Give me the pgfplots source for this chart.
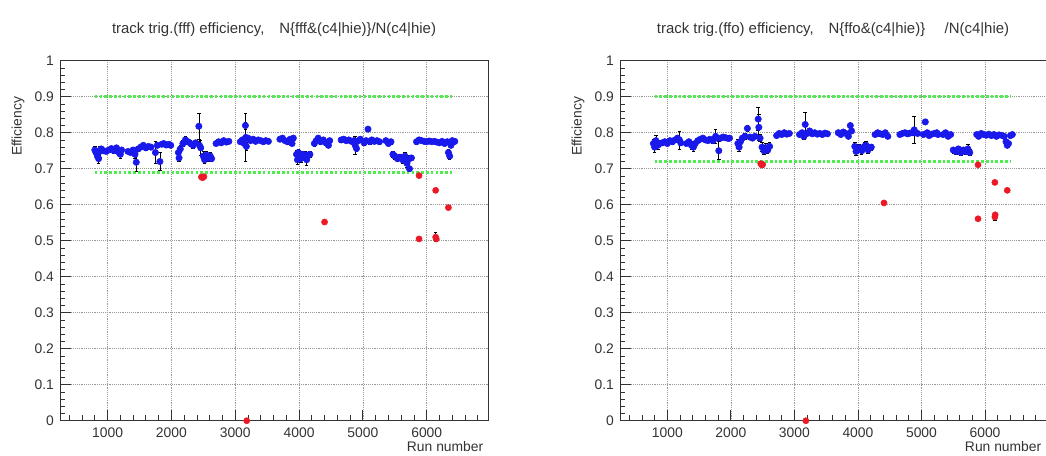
\documentclass[border=0pt]{standalone}
\usepackage{fontspec}
\setmainfont{Liberation Sans}
\usepackage{pgfplots}
\usepackage{pgfplotstable}
\pgfplotsset{compat=1.18}
\definecolor{rootblue}{rgb}{0.1,0.1,0.92}
\definecolor{rootred}{rgb}{0.92,0.1,0.15}
\definecolor{rootgreen}{rgb}{0.3,0.93,0.3}
\definecolor{txt}{rgb}{0.2,0.2,0.2}

\pgfplotstableread{
x y e
800 0.752 0.010
820 0.745 0.008
840 0.735 0.012
860 0.728 0.012
880 0.748 0.015
900 0.755 0.008
940 0.750 0.006
980 0.748 0.006
1020 0.752 0.006
1060 0.756 0.006
1100 0.750 0.006
1140 0.758 0.006
1180 0.745 0.008
1200 0.740 0.010
1220 0.752 0.006
1320 0.748 0.006
1360 0.745 0.006
1400 0.752 0.008
1430 0.740 0.010
1450 0.718 0.025
1480 0.755 0.008
1520 0.760 0.006
1560 0.765 0.006
1600 0.758 0.006
1640 0.762 0.006
1680 0.760 0.006
1750 0.745 0.030
1780 0.765 0.006
1820 0.720 0.025
1850 0.768 0.006
1880 0.770 0.006
1920 0.766 0.006
1960 0.768 0.006
1990 0.765 0.006
2110 0.745 0.012
2120 0.730 0.010
2140 0.755 0.010
2180 0.770 0.008
2220 0.780 0.010
2260 0.775 0.008
2300 0.770 0.008
2340 0.765 0.008
2380 0.772 0.008
2430 0.818 0.035
2440 0.765 0.010
2460 0.758 0.020
2500 0.735 0.012
2520 0.725 0.010
2550 0.738 0.010
2580 0.730 0.010
2610 0.735 0.010
2630 0.728 0.008
2700 0.770 0.005
2740 0.775 0.005
2780 0.772 0.005
2820 0.778 0.005
2860 0.774 0.005
2900 0.776 0.005
3080 0.775 0.005
3110 0.780 0.006
3140 0.770 0.006
3160 0.820 0.010
3165 0.787 0.067
3175 0.762 0.010
3200 0.785 0.006
3240 0.778 0.006
3280 0.782 0.005
3320 0.776 0.005
3360 0.780 0.005
3400 0.778 0.005
3440 0.775 0.005
3480 0.778 0.005
3520 0.776 0.005
3700 0.782 0.006
3740 0.785 0.006
3780 0.778 0.006
3820 0.775 0.006
3860 0.782 0.006
3890 0.770 0.006
3910 0.785 0.006
3960 0.740 0.012
3975 0.725 0.012
3990 0.745 0.010
4010 0.735 0.010
4030 0.728 0.010
4060 0.740 0.008
4100 0.738 0.010
4120 0.725 0.015
4150 0.738 0.008
4170 0.740 0.008
4240 0.770 0.008
4270 0.778 0.006
4300 0.785 0.006
4340 0.775 0.006
4380 0.780 0.006
4420 0.772 0.006
4460 0.765 0.006
4480 0.778 0.006
4660 0.780 0.006
4700 0.782 0.006
4740 0.778 0.006
4780 0.780 0.006
4820 0.776 0.006
4860 0.778 0.006
4880 0.765 0.025
4900 0.756 0.008
4930 0.778 0.006
4960 0.782 0.006
5020 0.772 0.008
5050 0.778 0.006
5080 0.810 0.006
5110 0.775 0.006
5140 0.780 0.006
5180 0.776 0.006
5220 0.778 0.006
5260 0.775 0.006
5360 0.778 0.006
5400 0.770 0.006
5440 0.775 0.006
5470 0.740 0.008
5500 0.735 0.008
5540 0.728 0.008
5580 0.732 0.008
5620 0.725 0.010
5660 0.735 0.010
5690 0.715 0.012
5710 0.725 0.012
5730 0.700 0.008
5760 0.730 0.008
5840 0.775 0.006
5880 0.780 0.006
5920 0.778 0.005
5960 0.776 0.005
6000 0.775 0.005
6040 0.777 0.005
6080 0.775 0.005
6120 0.776 0.005
6160 0.774 0.005
6200 0.772 0.005
6240 0.776 0.005
6280 0.770 0.005
6320 0.775 0.005
6340 0.745 0.008
6360 0.735 0.008
6380 0.765 0.006
6400 0.778 0.005
6420 0.775 0.005
6440 0.776 0.005
}\leftblue

\pgfplotstableread{
x y e
2470 0.677 0.004
2490 0.675 0.004
2510 0.678 0.004
3180 0.000 0.000
4400 0.552 0.004
5880 0.681 0.004
5880 0.505 0.004
6140 0.640 0.004
6140 0.510 0.012
6150 0.505 0.004
6340 0.592 0.004
}\leftred

\pgfplotstableread{
x y e
780 0.770 0.012
800 0.760 0.015
820 0.778 0.015
850 0.765 0.010
880 0.770 0.008
920 0.772 0.006
960 0.775 0.006
1000 0.770 0.006
1040 0.778 0.006
1080 0.775 0.006
1120 0.780 0.006
1160 0.785 0.008
1190 0.780 0.025
1210 0.772 0.006
1300 0.770 0.006
1340 0.775 0.006
1380 0.765 0.010
1410 0.760 0.012
1440 0.770 0.010
1480 0.778 0.006
1520 0.782 0.006
1560 0.785 0.006
1600 0.780 0.006
1640 0.778 0.006
1670 0.782 0.006
1720 0.778 0.008
1760 0.790 0.020
1790 0.785 0.006
1810 0.750 0.025
1840 0.785 0.006
1880 0.788 0.006
1920 0.786 0.006
1960 0.784 0.006
1980 0.785 0.006
2110 0.770 0.012
2130 0.760 0.012
2150 0.775 0.010
2180 0.785 0.008
2220 0.790 0.008
2260 0.812 0.008
2300 0.788 0.006
2340 0.785 0.006
2380 0.790 0.006
2430 0.838 0.032
2440 0.815 0.035
2460 0.785 0.010
2490 0.760 0.012
2520 0.750 0.010
2550 0.758 0.012
2580 0.752 0.010
2610 0.762 0.010
2720 0.792 0.005
2760 0.798 0.005
2800 0.795 0.005
2840 0.800 0.005
2880 0.796 0.005
2920 0.798 0.005
3080 0.795 0.005
3120 0.800 0.006
3150 0.790 0.008
3170 0.823 0.035
3200 0.798 0.006
3240 0.805 0.006
3280 0.797 0.005
3320 0.800 0.005
3360 0.796 0.005
3400 0.798 0.005
3440 0.795 0.005
3480 0.799 0.005
3520 0.797 0.005
3690 0.800 0.006
3730 0.795 0.006
3770 0.802 0.006
3810 0.798 0.006
3850 0.790 0.006
3880 0.820 0.006
3900 0.805 0.006
3950 0.762 0.012
3970 0.748 0.012
3990 0.755 0.010
4020 0.758 0.010
4060 0.750 0.010
4100 0.762 0.010
4130 0.765 0.010
4160 0.752 0.010
4190 0.758 0.008
4210 0.760 0.008
4270 0.795 0.006
4310 0.800 0.006
4350 0.797 0.006
4390 0.795 0.006
4430 0.800 0.006
4470 0.790 0.006
4660 0.795 0.006
4700 0.798 0.006
4740 0.800 0.006
4780 0.797 0.006
4820 0.799 0.006
4860 0.800 0.006
4885 0.808 0.038
4900 0.800 0.006
4940 0.798 0.006
5030 0.795 0.006
5060 0.830 0.006
5090 0.800 0.006
5120 0.792 0.006
5160 0.796 0.006
5200 0.798 0.006
5240 0.800 0.006
5260 0.795 0.006
5340 0.795 0.006
5380 0.800 0.006
5420 0.790 0.006
5460 0.795 0.006
5500 0.752 0.008
5540 0.748 0.008
5580 0.755 0.008
5620 0.745 0.008
5660 0.752 0.008
5700 0.748 0.008
5730 0.755 0.012
5760 0.745 0.008
5870 0.795 0.006
5900 0.790 0.006
5940 0.798 0.005
5980 0.795 0.005
6020 0.793 0.005
6060 0.796 0.005
6100 0.792 0.005
6140 0.795 0.005
6180 0.790 0.005
6220 0.794 0.005
6260 0.793 0.005
6300 0.790 0.005
6330 0.775 0.006
6350 0.765 0.006
6370 0.770 0.006
6400 0.792 0.005
6430 0.795 0.005
}\rightblue

\pgfplotstableread{
x y e
2470 0.714 0.004
2490 0.710 0.004
2500 0.712 0.004
3180 0.000 0.000
4410 0.605 0.004
5890 0.711 0.004
5890 0.561 0.004
6155 0.662 0.004
6155 0.566 0.010
6160 0.572 0.004
6350 0.640 0.004
}\rightred

\pgfplotsset{
  rootaxis/.style={
    scale only axis, height=270pt,
    xmin=255, xmax=6960, ymin=0, ymax=1,
    xtick={1000,2000,3000,4000,5000,6000},
    ytick={0,0.1,0.2,0.3,0.4,0.5,0.6,0.7,0.8,0.9,1},
    minor xtick={400,600,...,6800},
    minor ytick={0.02,0.04,...,0.99},
    major tick length=8pt, minor tick length=4pt,
    tick pos=left, tick align=inside,
    grid=major, grid style={densely dotted, gray!80, line width=0.5pt},
    axis line style={black!80, line width=0.6pt},
    tick style={black!80, line width=0.6pt},
    xticklabel style={/pgf/number format/set thousands separator={}, yshift=-2pt},
    yticklabel style={/pgf/number format/fixed, /pgf/number format/precision=1, xshift=-1pt},
    /pgf/number format/assume math mode=true,
    /pgf/number format/set thousands separator={},
    ticklabel style={font=\fontsize{10.4}{12}\selectfont, text=txt},
    title style={at={(0.5,1)}, anchor=center, yshift=17pt, font=\fontsize{11.2}{13}\selectfont, text=txt},
    xlabel={Run number},
    xlabel style={at={(axis description cs:1,0)}, anchor=east, yshift=-19.5pt, font=\fontsize{10.4}{12}\selectfont, text=txt},
    ylabel={Efficiency},
    ylabel style={at={(axis description cs:0,0.913)}, anchor=east, yshift=31.5pt, font=\fontsize{10.4}{12}\selectfont, text=txt},
    clip=false,
  },
  greenline/.style={rootgreen, line width=2pt, dash pattern=on 2pt off 1.6pt, forget plot},
  bluepts/.style={only marks, mark=*, mark size=2.4pt, color=rootblue, mark options={draw=rootblue, fill=rootblue},
    error bars/.cd, y dir=both, y explicit, error bar style={black, line width=0.5pt},
    error mark options={rotate=90, mark size=1.3pt, black, line width=0.5pt}},
  redpts/.style={only marks, mark=*, mark size=2.3pt, color=rootred, mark options={draw=rootred, fill=rootred},
    error bars/.cd, y dir=both, y explicit, error bar style={black, line width=0.5pt},
    error mark options={rotate=90, mark size=1.3pt, black, line width=0.5pt}},
}

\begin{document}
\begin{tikzpicture}
\useasboundingbox (0,0) rectangle (784.5pt,341.25pt);
\begin{axis}[rootaxis, width=321pt, at={(45pt,25.7pt)}, anchor=south west,
  title={track trig.(fff) efficiency,\hspace{1em}N\{fff\&(c4|hie)\}/N(c4|hie)}]
\addplot[greenline] coordinates {(800,0.9) (6400,0.9)};
\addplot[greenline] coordinates {(800,0.69) (6400,0.69)};
\addplot[bluepts] table[x=x, y=y, y error=e] {\leftblue};
\addplot[redpts] table[x=x, y=y, y error=e] {\leftred};
\end{axis}
\begin{axis}[rootaxis, width=319.5pt, at={(465pt,25.7pt)}, anchor=south west,
  title={track trig.(ffo) efficiency,\hspace{1em}N\{ffo\&(c4|hie)\}\hspace{1.3em}/N(c4|hie)}]
\addplot[greenline] coordinates {(800,0.9) (6400,0.9)};
\addplot[greenline] coordinates {(800,0.72) (6400,0.72)};
\addplot[bluepts] table[x=x, y=y, y error=e] {\rightblue};
\addplot[redpts] table[x=x, y=y, y error=e] {\rightred};
\end{axis}
\end{tikzpicture}
\end{document}
